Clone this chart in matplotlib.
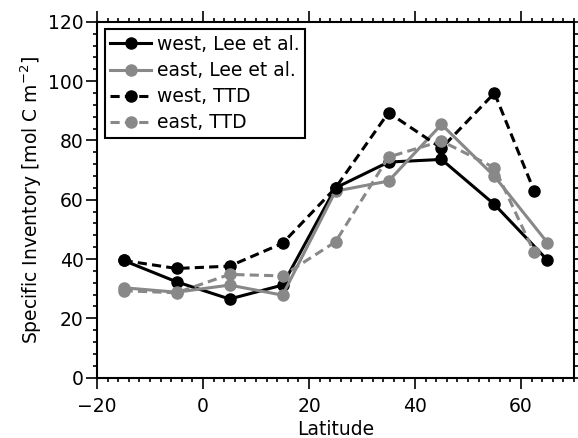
import matplotlib.pyplot as plt
from matplotlib.ticker import MultipleLocator

plt.rcParams['font.family'] = ['DejaVu Sans']

# latitude positions
lat_lee = [-15, -5, 5, 15, 25, 35, 45, 55, 65]
lat_ttd = [-15, -5, 5, 15, 25, 35, 45, 55, 62.5]

# specific inventory [mol C m-2]
west_lee = [39.5, 32.3, 26.5, 31.2, 64.0, 72.7, 73.6, 58.4, 39.6]
east_lee = [30.3, 28.8, 31.2, 27.8, 62.9, 66.3, 85.4, 67.9, 45.5]
west_ttd = [39.5, 36.8, 37.6, 45.3, 64.0, 89.4, 77.4, 96.0, 62.9]
east_ttd = [29.3, 28.6, 34.8, 34.3, 45.8, 74.4, 79.8, 70.8, 42.2]

gray = '#888888'

fig = plt.figure(figsize=(5.78, 4.38), dpi=100)
ax = fig.add_axes([0.168, 0.138, 0.825, 0.812])

lw = 2.2
ms = 8
dash = (3, 1.7)
ax.plot(lat_lee, west_lee, '-o', color='black', lw=lw, ms=ms, label='west, Lee et al.')
ax.plot(lat_lee, east_lee, '-o', color=gray, lw=lw, ms=ms, label='east, Lee et al.')
ax.plot(lat_ttd, west_ttd, '--o', color='black', lw=lw, ms=ms, dashes=dash, label='west, TTD')
ax.plot(lat_ttd, east_ttd, '--o', color=gray, lw=lw, ms=ms, dashes=dash, label='east, TTD')

ax.set_xlim(-20, 70)
ax.set_ylim(0, 120)
ax.xaxis.set_major_locator(MultipleLocator(20))
ax.xaxis.set_minor_locator(MultipleLocator(2))
ax.yaxis.set_major_locator(MultipleLocator(20))
ax.yaxis.set_minor_locator(MultipleLocator(4))

for s in ax.spines.values():
    s.set_linewidth(1.5)
ax.tick_params(which='both', direction='out', top=True, right=True, width=1.2,
               labelsize=13.5)
ax.tick_params(which='major', length=7.7)
ax.tick_params(which='minor', length=3)
ax.tick_params(axis='x', pad=6)
ax.tick_params(axis='y', pad=2)

ax.set_xlabel('Latitude', fontsize=13.5, labelpad=3)
ax.set_ylabel('Specific Inventory [mol C m$^{-2}$]', fontsize=13.5, labelpad=3)

leg = ax.legend(loc='upper left', fontsize=13.5, frameon=True, fancybox=False,
                framealpha=1, edgecolor='black', handlelength=2.2,
                handletextpad=0.3, labelspacing=0.38, borderpad=0.3,
                borderaxespad=0.4)
leg.get_frame().set_linewidth(1.5)

fig.savefig('out.png', dpi=100)
